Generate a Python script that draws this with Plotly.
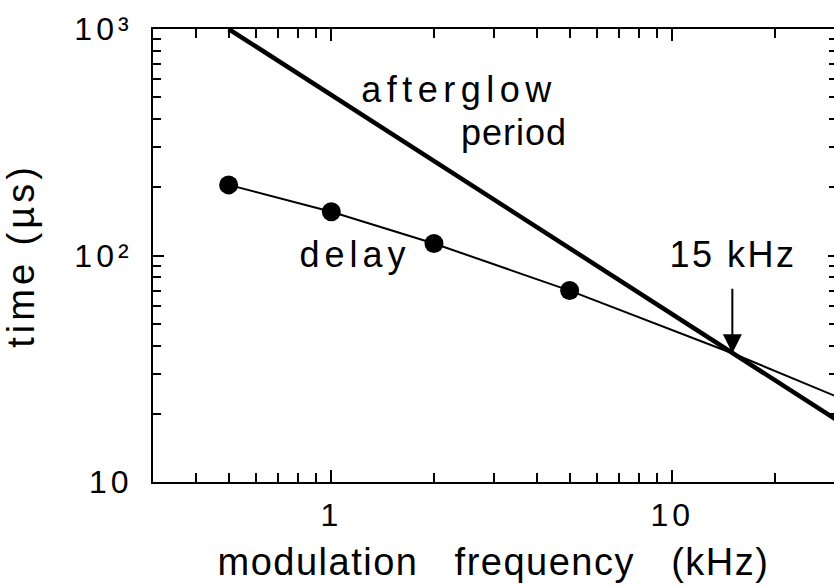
import math
import plotly.graph_objects as go

# ---- data ----
delay_freq = [0.5, 1, 2, 5]            # kHz, measured points
delay_time = [205, 156, 113, 70]       # µs
delay_ext_freq = [15, 30]              # continuation of the delay line
delay_ext_time = [37, 24]
afterglow_freq = [0.5, 15, 30]         # kHz
afterglow_time = [1000, 37, 19]        # µs

x_major = [1, 10]
x_major_text = ["1", "10"]
x_minor = [0.4, 0.5, 0.6, 0.7, 0.8, 0.9, 2, 3, 4, 5, 6, 7, 8, 9, 20, 30]
y_major = [10, 100, 1000]
y_major_text = ["10", "10²", "10³"]
y_minor = [20, 30, 40, 50, 60, 70, 80, 90, 200, 300, 400, 500, 600, 700, 800, 900]

FONT = "Liberation Sans, Arial, Helvetica, sans-serif"

fig = go.Figure()
fig.add_trace(go.Scatter(x=afterglow_freq, y=afterglow_time, mode="lines",
                         line=dict(color="black", width=4.5), showlegend=False,
                         hoverinfo="skip"))
fig.add_trace(go.Scatter(x=delay_freq + delay_ext_freq, y=delay_time + delay_ext_time,
                         mode="lines", line=dict(color="black", width=2),
                         showlegend=False, hoverinfo="skip"))
fig.add_trace(go.Scatter(x=delay_freq, y=delay_time, mode="markers", yaxis="y2",
                         marker=dict(color="black", size=19), showlegend=False))

x0 = math.log10(0.3)
fig.update_layout(
    width=834, height=587,
    margin=dict(l=153, r=0, t=29, b=105),
    paper_bgcolor="white", plot_bgcolor="white",
    font=dict(family=FONT, color="black", size=32),
    xaxis=dict(type="log", range=[x0, x0 + 681 / 341], showgrid=False, zeroline=False,
               showline=True, linecolor="black", linewidth=2, mirror="ticks",
               ticks="inside", ticklen=12, tickwidth=2, tickcolor="black",
               tickmode="array", tickvals=x_major, ticktext=x_major_text,
               tickfont=dict(size=32), ticklabelstandoff=4,
               minor=dict(tickmode="array", tickvals=x_minor, ticks="inside",
                          ticklen=9, tickwidth=1.5, tickcolor="black", showgrid=False),
               title=dict(text="modulation\u00a0\u00a0\u00a0frequency\u00a0\u00a0\u00a0(kHz)",
                          font=dict(size=38), standoff=16)),
    yaxis=dict(type="log", range=[1, 3], showgrid=False, zeroline=False,
               showline=True, linecolor="black", linewidth=2, mirror=False,
               ticks="inside", ticklen=11, tickwidth=2, tickcolor="black",
               tickmode="array", tickvals=y_major, ticktext=y_major_text,
               tickfont=dict(size=32), ticklabelstandoff=12,
               minor=dict(tickmode="array", tickvals=y_minor, ticks="inside",
                          ticklen=8, tickwidth=1.5, tickcolor="black", showgrid=False),
               title=dict(text="time (µs)", font=dict(size=38), standoff=45)),
    yaxis2=dict(type="log", range=[1, 3], overlaying="y", side="right", anchor="x",
                showgrid=False, zeroline=False, showline=False, showticklabels=False,
                ticks="inside", ticklen=6, tickwidth=1.5, tickcolor="black",
                tickmode="array", tickvals=y_major,
                minor=dict(tickmode="array", tickvals=y_minor, ticks="inside",
                           ticklen=5, tickwidth=1.5, tickcolor="black", showgrid=False)),
)

ann_font = dict(family=FONT, size=36, color="black")
fig.add_annotation(x=0.376, y=2.734, xref="x", yref="y", text="afterglow",
                   showarrow=False, font=ann_font)
fig.add_annotation(x=0.535, y=2.543, xref="x", yref="y", text="period",
                   showarrow=False, font=ann_font)
fig.add_annotation(x=0.070, y=2.006, xref="x", yref="y", text="delay",
                   showarrow=False, font=ann_font)
fig.add_annotation(x=1.177, y=2.006, xref="x", yref="y", text="15 kHz",
                   showarrow=False, font=ann_font)
fig.add_annotation(x=math.log10(15), y=math.log10(37), xref="x", yref="y", text="",
                   showarrow=True, ax=0, ay=-66, arrowhead=2, arrowsize=1.9,
                   arrowwidth=2, arrowcolor="black", standoff=0)

post = """
(function(){
  var gd = document.getElementById('{plot_id}');
  function apply(){
    var ann = {'afterglow':'5.5px','period':'1px','delay':'5px','15 kHz':'2.5px'};
    gd.querySelectorAll('.annotation-text').forEach(function(t){
      var s = (t.textContent||'').trim();
      if (ann[s]) t.style.letterSpacing = ann[s];
    });
    gd.querySelectorAll('.xtick text, .ytick text').forEach(function(t){ t.style.letterSpacing='4px'; });
    var xt = gd.querySelector('.xtitle'); if (xt) xt.style.letterSpacing='1.5px';
    var yt = gd.querySelector('.ytitle'); if (yt) yt.style.letterSpacing='4px';
  }
  apply();
  if (gd.on) gd.on('plotly_afterplot', apply);
})();
"""
fig.write_html("out.html", post_script=post)
